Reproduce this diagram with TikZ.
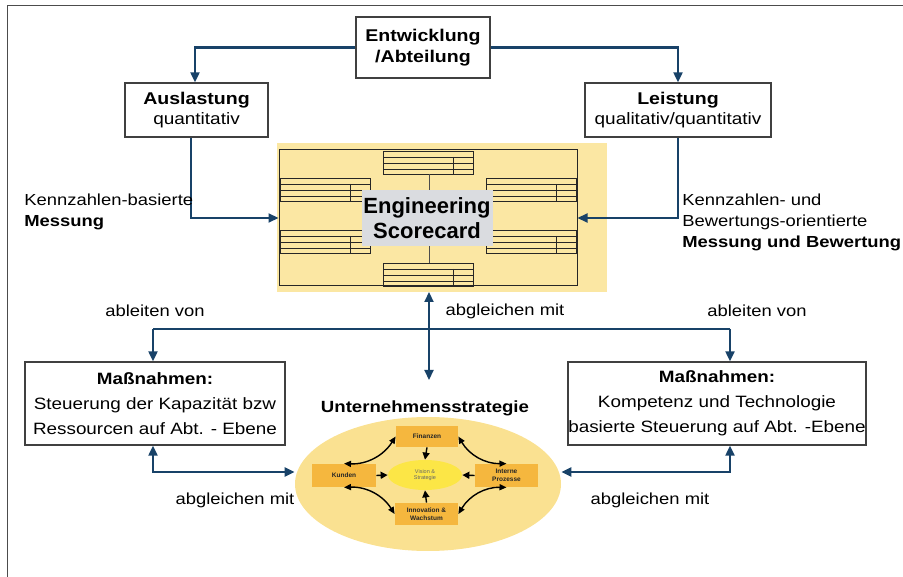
\documentclass[tikz,border=0pt]{standalone}
\usepackage{fontspec}
\setmainfont[FakeStretch=1.15]{Liberation Sans}
\newfontfamily\plainsans{Liberation Sans}
\usetikzlibrary{arrows.meta,shapes.geometric}

\definecolor{arrowblue}{RGB}{24,66,104}
\definecolor{scyellow}{RGB}{251,231,163}
\definecolor{scgray}{RGB}{218,220,224}
\definecolor{stratyellow}{RGB}{250,225,145}
\definecolor{persporange}{RGB}{245,183,62}
\definecolor{visionyellow}{RGB}{252,230,70}

\tikzset{every picture/.style={line width=0.75pt}}
\tikzset{
  textbox/.style={draw=black!75, line width=1.4pt, fill=white, align=center, inner sep=0pt},
  conn/.style={draw=arrowblue, line width=2.2pt, -{Triangle[length=10pt,width=9pt]}},
  conntwo/.style={draw=arrowblue, line width=2.2pt, {Triangle[length=10pt,width=9pt]}-{Triangle[length=10pt,width=9pt]}},
  plainconn/.style={draw=arrowblue, line width=2.2pt},
  persp/.style={fill=persporange, inner sep=0pt, align=center, font=\plainsans\fontsize{6.5}{7.5}\selectfont\bfseries, text=black!85},
  cyc/.style={draw=black, line width=1.4pt, {Triangle[length=7pt,width=6pt]}-{Triangle[length=7pt,width=6pt]}},
  tovision/.style={draw=black, line width=1.4pt, -{Triangle[length=7pt,width=7pt]}},
  label/.style={font=\fontsize{16}{19}\selectfont, inner sep=0pt}
}

% small table of the scorecard, top left corner #1,#2
\newcommand{\sctable}[2]{%
  \draw[black!85, line width=0.6pt] (#1,#2) rectangle ++(90,23);
  \draw[black!85, line width=0.5pt] (#1,#2+6) -- ++(90,0) (#1,#2+12) -- ++(90,0) (#1,#2+18) -- ++(90,0);
  \draw[black!85, line width=0.5pt] (#1+70,#2+6) -- ++(0,17);
}

\begin{document}
\begin{tikzpicture}[x=1pt,y=1pt,yscale=-1]
\useasboundingbox (0,0) rectangle (903,577);

% frame of the slide
\draw[black!70, line width=1pt] (7,577) -- (7,6) -- (903,6);

% upper boxes
\node[textbox, minimum width=134, minimum height=61, font=\fontsize{17}{21}\selectfont\bfseries] (entw) at (423,47.5) {Entwicklung\\/Abteilung};
\node[textbox, minimum width=143, minimum height=54] (ausl) at (196.5,110) {{\fontsize{17}{20}\selectfont\bfseries Auslastung}\\[3pt]{\fontsize{16.5}{18}\selectfont quantitativ}};
\node[textbox, minimum width=186, minimum height=54] (leist) at (678,110) {{\fontsize{17}{20}\selectfont\bfseries Leistung}\\[3pt]{\fontsize{16.5}{18}\selectfont qualitativ/quantitativ}};

% scorecard
\fill[scyellow] (277,143) rectangle (607,292);
\node[draw=black!85, line width=1pt, minimum width=298, minimum height=136, inner sep=0pt] (sc) at (428,218) {};
\sctable{383}{151}
\sctable{280}{178}
\sctable{486}{178}
\sctable{280}{230}
\sctable{486}{230}
\sctable{383}{263}
\node[fill=scgray, minimum width=131, minimum height=56, inner sep=0pt, align=center, font=\plainsans\fontsize{22}{25}\selectfont\bfseries] (eng) at (427,218) {Engineering\\Scorecard};
\draw[black!70, line width=0.6pt] (429,174) -- (eng.north -| 429,0);
\draw[black!70, line width=0.6pt] (eng.south -| 429,0) -- (429,263);

% connectors from the top
\coordinate (tl) at (195,47.5);
\coordinate (tr) at (678,47.5);
\draw[conn] (entw.west) -- (tl) -- (tl |- ausl.north);
\draw[conn] (entw.east) -- (tr) -- (tr |- leist.north);
\coordinate (ml) at (191,218);
\coordinate (mr) at (678,218);
\draw[conn] (ausl.south -| ml) -- (ml) -- (sc.west);
\draw[conn] (leist.south -| mr) -- (mr) -- (sc.east);

% Text Node
\node[label, anchor=north west, align=left] (kl) at (24,194) {Kennzahlen-basierte\\[2pt]\textbf{Messung}};
% Text Node
\node[label, anchor=north west, align=left] (kr) at (682,194) {Kennzahlen- und\\[2pt]Bewertungs-orientierte\\[2pt]\textbf{Messung und Bewertung}};

% lower boxes
\node[textbox, minimum width=260, minimum height=83, font=\fontsize{16.4}{25}\selectfont] (massl) at (155,403.5) {\textbf{Maßnahmen:}\\Steuerung der Kapazität bzw\\Ressourcen auf Abt. - Ebene};
\node[textbox, minimum width=298, minimum height=83, font=\fontsize{16.4}{25}\selectfont] (massr) at (717,403.5) {\textbf{Maßnahmen:}\\Kompetenz und Technologie\\basierte Steuerung auf Abt. -Ebene};

% Text Node
\node[label] (abl) at (155,311) {ableiten von};
\node[label] (abr) at (757,311) {ableiten von};
\node[label] (abm) at (505,311) {abgleichen mit};

\coordinate (jl) at (153,329);
\coordinate (jr) at (730,329);
\draw[plainconn] (jl) -- (jr);
\draw[conn] (jl) -- (jl |- massl.north);
\draw[conn] (jr) -- (jr |- massr.north);
\coordinate (sin) at (429,380);
\draw[conntwo] (429,292) -- (sin);

% strategy
\node[ellipse, fill=stratyellow, minimum width=266, minimum height=134, inner sep=0pt] (ell) at (428,484) {};
\node[font=\fontsize{16.2}{18}\selectfont\bfseries, inner sep=0pt] (strat) at (425,408) {Unternehmensstrategie};
\node[ellipse, fill=visionyellow, minimum width=74, minimum height=30, inner sep=0pt, align=center, font=\plainsans\fontsize{5.5}{6.5}\selectfont, text=black!60] (vis) at (425,475) {Vision \&\\Strategie};
\node[persp, minimum width=62, minimum height=21] (fin) at (427,436.5) {Finanzen};
\node[persp, minimum width=64, minimum height=23] (kun) at (344,475.5) {Kunden};
\node[persp, minimum width=63, minimum height=23] (int) at (506.5,475.5) {Interne\\Prozesse};
\node[persp, minimum width=63, minimum height=22] (inn) at (426.5,514) {Innovation \&\\Wachstum};
\draw[tovision] (kun.east) -- (vis.west);
\draw[tovision] (int.west) -- (vis.east);
\draw[tovision] (fin.south) -- (vis.north);
\draw[tovision] (inn.north) -- (vis.south);
\draw[cyc] (fin.west) to[bend right=30] (kun.north);
\draw[cyc] (fin.east) to[bend left=30] (int.north);
\draw[cyc] (kun.south) to[bend right=30] (inn.west);
\draw[cyc] (int.south) to[bend left=30] (inn.east);

% connectors at the bottom
\coordinate (bl) at (153,472);
\coordinate (br) at (730,472);
\draw[conntwo] (massl.south -| bl) -- (bl) -- (bl -| ell.west);
\draw[conntwo] (massr.south -| br) -- (br) -- (br -| ell.east);

% Text Node
\node[label] (agl) at (235,500) {abgleichen mit};
\node[label] (agr) at (650,500) {abgleichen mit};

\end{tikzpicture}
\end{document}
